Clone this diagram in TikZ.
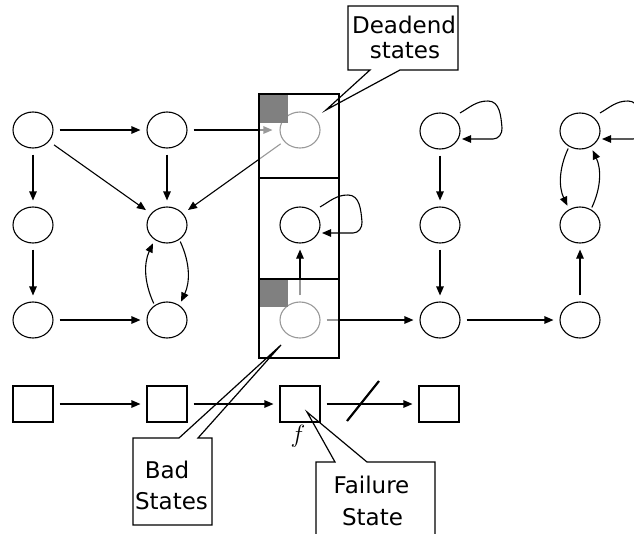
\documentclass[tikz,border=0pt]{standalone}
\usepackage{fontspec}
\setmainfont{DejaVu Sans}
\usetikzlibrary{arrows.meta,calc,shapes.geometric}

\begin{document}
\begin{tikzpicture}[x=1pt,y=-1pt,
  st/.style={draw, ellipse, minimum width=40pt, minimum height=36pt, inner sep=0pt, line width=1.1pt},
  sq/.style={draw, rectangle, minimum width=40pt, minimum height=36pt, inner sep=0pt, line width=1.1pt},
  arr/.style={line width=1.1pt, -{Triangle[length=9pt,width=7.5pt]}, shorten <=6pt, shorten >=6pt},
  bendarr/.style={line width=1.1pt, -{Triangle[length=9pt,width=7.5pt]}, shorten <=2pt, shorten >=4pt},
  looparr/.style={line width=1.1pt, -{Triangle[length=9pt,width=7.5pt]}},
  callout/.style={draw, line width=1.2pt, line join=miter},
  lbl/.style={font=\fontsize{23}{27}\selectfont, inner sep=0pt, anchor=base},
  washout/.style={fill=white, fill opacity=0.6},
  darkblock/.style={fill={rgb,255:red,128;green,128;blue,128}},
  cellframe/.style={draw, line width=2.4pt}
]
\useasboundingbox (0,0) rectangle (634,533);
\clip (0,0) rectangle (634,533);

% states of the graph
\node[st] (a11) at (33,130) {};
\node[st] (a12) at (33,225) {};
\node[st] (a13) at (33,320) {};
\node[st] (a21) at (167,130) {};
\node[st] (a22) at (167,225) {};
\node[st] (a23) at (167,320) {};
\node[st] (a31) at (300,130) {};
\node[st] (a32) at (300,225) {};
\node[st] (a33) at (300,320) {};
\node[st] (a41) at (440,131) {};
\node[st] (a42) at (440,225) {};
\node[st] (a43) at (440,320) {};
\node[st] (a51) at (580,131) {};
\node[st] (a52) at (580,225) {};
\node[st] (a53) at (580,320) {};

% transitions
\draw[arr] (a11) -- (a21);
\draw[arr] (a11) -- (a12);
\draw[arr] (a12) -- (a13);
\draw[arr] (a11) -- (a22);
\draw[arr] (a21) -- (a22);
\draw[arr, shorten >=7pt] (a21) -- (a31);
\draw[arr, shorten <=4pt] (a31) -- (a22);
\draw[arr] (a13) -- (a23);
\draw[bendarr] (a22.-50) to[bend left=25] (a23.50);
\draw[bendarr] (a23.130) to[bend left=25] (a22.-130);
\draw[arr] (a33) -- (a32);
\draw[arr] (a33) -- (a43);
\draw[arr] (a41) -- (a42);
\draw[arr] (a42) -- (a43);
\draw[arr] (a43) -- (a53);
\draw[arr] (a53) -- (a52);
\draw[bendarr] (a51.-125) to[bend right=25] (a52.125);
\draw[bendarr] (a52.55) to[bend right=25] (a51.-55);

% self loops
\foreach \s in {a32,a41,a51}{
  \draw[looparr] ($(\s)+(20,-18)$) to[out=30,in=180] ($(\s)+(48,-30)$)
     to[out=0,in=95] ($(\s)+(62,-3)$) to[out=-85,in=0] ($(\s)+(53,8)$)
     -- ($(\s)+(22,8)$);
}

% squares of the abstract run
\node[sq] (s1) at (33,404) {};
\node[sq] (s2) at (167,404) {};
\node[sq] (s3) at (300,404) {};
\node[sq] (s4) at (439,404) {};
\draw[arr] (s1) -- (s2);
\draw[arr] (s2) -- (s3);
\draw[arr] (s3) -- (s4);
\draw[line width=2.2pt] (347,421) -- (379,381);
\node (flabel) at (298,436) {\fontsize{24.88}{28}\selectfont$f$};

% washed-out cells with dark corner blocks
\path[washout] (259,94) rectangle (339,178);
\path[washout] (259,279) rectangle (339,358);
\fill[darkblock] (259,94) rectangle (288,123);
\fill[darkblock] (259,279) rectangle (288,307);
\draw[cellframe] (259,94) rectangle (339,358);
\draw[line width=2.2pt] (259,178) -- (339,178);
\draw[line width=2.2pt] (259,279) -- (339,279);

% callouts
\coordinate (deadtip) at (326,110);
\coordinate (badtip) at (281,345);
\coordinate (failtip) at (307,412);
\draw[callout] (348,6) -- (458,6) -- (458,70) -- (400,70) -- (deadtip)
   -- (370,70) -- (348,70) -- cycle;
\draw[callout] (133,438) -- (179,438) -- (badtip) -- (198,438) -- (212,438)
   -- (212,525) -- (133,525) -- cycle;
\draw[callout] (316,545) -- (316,462) -- (335,462) -- (failtip) -- (367,462)
   -- (435,462) -- (435,545);

\node[lbl] (deadA) at (404,33) {Deadend};
\node[lbl] (deadB) at (405,58) {states};
\node[lbl] (badA) at (167,478) {Bad};
\node[lbl] (badB) at (171.5,509) {States};
\node[lbl] (failA) at (371.5,493) {Failure};
\node[lbl] (failB) at (372.5,525) {State};
\end{tikzpicture}
\end{document}
